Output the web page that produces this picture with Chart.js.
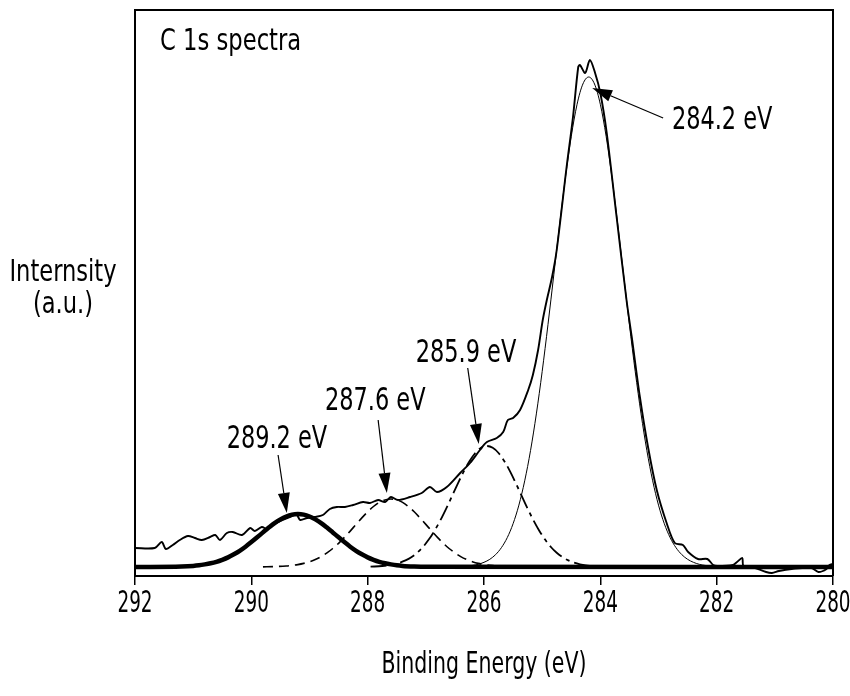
<!DOCTYPE html>
<html>
<head>
<meta charset="utf-8">
<script src="https://cdn.jsdelivr.net/npm/chart.js@4/dist/chart.umd.min.js"></script>
<style>
  html, body { margin: 0; padding: 0; background: #fff; }
  #wrap { width: 850px; height: 696px; }
</style>
</head>
<body>
<div id="wrap"><canvas id="c" width="850" height="696"></canvas></div>
<script>
// ---------- DATA ----------
const xTicks = [292, 290, 288, 286, 284, 282, 280];

// Measured C 1s spectrum (binding energy in eV, intensity in a.u.)
const spectrumE = [292.00, 291.66, 291.54, 291.47, 291.35, 291.23, 291.09, 290.97, 290.85, 290.71,
  290.62, 290.54, 290.42, 290.32, 290.16, 290.02, 289.94, 289.82, 289.73, 289.63,
  289.46, 289.34, 289.22, 289.16, 289.04, 288.91, 288.77, 288.65, 288.53, 288.39,
  288.25, 288.08, 287.96, 287.82, 287.70, 287.60, 287.48, 287.27, 287.07, 286.93,
  286.81, 286.64, 286.41, 286.24, 286.07, 285.95, 285.78, 285.67, 285.59, 285.50,
  285.38, 285.24, 285.16, 285.07, 284.99, 284.92, 284.83, 284.75, 284.58, 284.47,
  284.38, 284.35, 284.26, 284.18, 284.09, 284.00, 283.89, 283.72, 283.55, 283.46,
  283.32, 283.18, 283.03, 282.86, 282.72, 282.58, 282.49, 282.32, 282.16, 282.06,
  281.99, 281.72, 281.65, 281.56, 281.54, 281.39, 281.15, 281.05, 280.93, 280.71,
  280.37, 280.25, 280.11, 280.06, 280.00];
const spectrumI = [19, 19, 25, 18, 22, 27, 31, 29, 27, 30,
  32, 27, 34, 35, 32, 39, 36, 40, 38, 42,
  47, 50, 52, 47, 49, 50, 52, 58, 60, 60,
  62, 65, 64, 67, 65, 70, 67, 70, 74, 80,
  75, 80, 94, 104, 117, 125, 129, 135, 147, 149,
  157, 177, 192, 217, 247, 267, 290, 317, 400, 450,
  500, 502, 494, 507, 494, 474, 434, 350, 267, 230,
  170, 120, 77, 44, 24, 22, 15, 8, 8, 2,
  1, 2, 5, 9, 1, 0, -5, -6, -4, -2,
  -1, -5, -2, 2, 3];

// Fitted component at 289.2 eV (thick line)
const peak2892E = [292.0, 291.2, 291.0, 290.9, 290.8, 290.7, 290.6, 290.5, 290.4, 290.3, 290.2,
  290.1, 290.0, 289.9, 289.8, 289.7, 289.6, 289.5, 289.4, 289.3, 289.2,
  289.1, 289.0, 288.9, 288.8, 288.7, 288.6, 288.5, 288.4, 288.3, 288.2,
  288.1, 288.0, 287.9, 287.8, 287.7, 287.6, 287.5, 287.4, 287.2, 287.0, 280.0];
const peak2892I = [0, 0.5, 1.1, 1.7, 2.6, 3.7, 5.2, 7.2, 9.6, 12.7, 16.2,
  20.3, 24.9, 29.7, 34.6, 39.4, 43.9, 47.6, 50.5, 52.4, 53,
  52.4, 50.5, 47.6, 43.9, 39.4, 34.6, 29.7, 24.9, 20.3, 16.2,
  12.7, 9.6, 7.2, 5.2, 3.7, 2.6, 1.7, 1.1, 0.5, 0.2, 0];

// Fitted component at 287.6 eV (dashed)
const peak2876E = [289.8, 289.6, 289.4, 289.3, 289.2, 289.1, 289.0, 288.9, 288.8, 288.7, 288.6,
  288.5, 288.4, 288.3, 288.2, 288.1, 288.0, 287.9, 287.8, 287.7, 287.6,
  287.5, 287.4, 287.3, 287.2, 287.1, 287.0, 286.9, 286.8, 286.7, 286.6,
  286.5, 286.4, 286.3, 286.2, 286.1, 286.0, 285.9, 285.8, 285.6, 285.4];
const peak2876I = [0.1, 0.4, 1.0, 1.6, 2.4, 3.6, 5.3, 7.5, 10.4, 14.1, 18.5,
  23.7, 29.6, 35.9, 42.6, 49.1, 55.2, 60.5, 64.6, 67.1, 68,
  67.1, 64.6, 60.5, 55.2, 49.1, 42.6, 35.9, 29.6, 23.7, 18.5,
  14.1, 10.4, 7.5, 5.3, 3.6, 2.4, 1.6, 1.0, 0.4, 0.1];

// Fitted component at 285.9 eV (dash-dot)
const peak2859E = [287.95, 287.75, 287.65, 287.55, 287.45, 287.35, 287.25, 287.15, 287.05, 286.95,
  286.85, 286.75, 286.65, 286.55, 286.45, 286.35, 286.25, 286.15, 286.05, 285.95,
  285.85, 285.75, 285.65, 285.55, 285.45, 285.35, 285.25, 285.15, 285.05, 284.95,
  284.85, 284.75, 284.65, 284.55, 284.45, 284.35, 284.25, 284.15, 283.95];
const peak2859I = [0.3, 1.0, 1.6, 2.7, 4.3, 6.6, 9.8, 14.2, 20.0, 27.4,
  36.3, 46.7, 58.4, 70.9, 83.4, 95.4, 105.8, 114.0, 119.2, 121,
  119.2, 114.0, 105.8, 95.4, 83.4, 70.9, 58.4, 46.7, 36.3, 27.4,
  20.0, 14.2, 9.8, 6.6, 4.3, 2.7, 1.6, 1.0, 0.3];

// Fitted component at 284.2 eV (thin line)
const peak2842E = [286.6, 286.4, 286.2, 286.1, 286.0, 285.9, 285.8, 285.7, 285.6, 285.5,
  285.4, 285.3, 285.2, 285.1, 285.0, 284.9, 284.8, 284.7, 284.6, 284.5,
  284.4, 284.3, 284.2, 284.1, 284.0, 283.9, 283.8, 283.7, 283.6, 283.5,
  283.4, 283.3, 283.2, 283.1, 283.0, 282.9, 282.8, 282.7, 282.6, 282.5,
  282.4, 282.3, 282.2, 282.0, 281.8];
const peak2842I = [0.1, 0.5, 1.6, 2.7, 4.7, 7.7, 12.4, 19.4, 29.4, 43.3,
  61.9, 86.2, 116.5, 153.1, 195.4, 242.4, 292.2, 342.2, 389.4, 430.6,
  462.7, 483.0, 490, 483.0, 462.7, 430.6, 389.4, 342.2, 292.2, 242.4,
  195.4, 153.1, 116.5, 86.2, 61.9, 43.3, 29.4, 19.4, 12.4, 7.7,
  4.7, 2.7, 1.6, 0.5, 0.1];

// Annotation labels
const peakLabels = ["284.2 eV", "285.9 eV", "287.6 eV", "289.2 eV"];
const panelLabel = "C 1s spectra";
const xTitle = "Binding Energy (eV)";
const yTitleLines = ["Internsity", "(a.u.)"];

// ---------- helpers ----------
function pts(E, I) { return E.map((e, i) => ({ x: e, y: I[i] })); }

// annotation geometry (data coordinates: energy, intensity)
const arrowSpecs = [
  { text: peakLabels[0], tip: [284.14, 479], tail: [282.92, 449], at: [282.77, 446], align: 'left' },
  { text: peakLabels[1], tip: [286.09, 123], tail: [286.28, 199], at: [286.31, 213], align: 'center' },
  { text: peakLabels[2], tip: [287.67, 74],  tail: [287.82, 147], at: [287.87, 165], align: 'center' },
  { text: peakLabels[3], tip: [289.39, 54],  tail: [289.54, 112], at: [289.56, 127], align: 'center' }
];

const FONT = '"DejaVu Sans Condensed", "DejaVu Sans", sans-serif';
const TICK_SX = 0.66;    // horizontal squeeze of tick labels
const TITLE_SX = 0.76;   // horizontal squeeze of the axis title
const tickStrings = xTicks.map(String);

// draw narrow text: horizontally scaled fillText
function narrowText(ctx, text, x, y, sx) {
  ctx.save();
  ctx.translate(x, y);
  ctx.scale(sx, 1);
  ctx.fillText(text, 0, 0);
  ctx.restore();
}

const squeezePlugin = {
  id: 'squeeze',
  beforeDraw(chart) {
    const ctx = chart.ctx;
    if (ctx._origFillText) return;
    const orig = ctx.fillText;
    ctx._origFillText = orig;
    ctx.fillText = function (t, x, y) {
      const sx = tickStrings.includes(String(t)) ? TICK_SX : TITLE_SX;
      this.save();
      this.translate(x, y);
      this.scale(sx, 1);
      orig.call(this, t, 0, 0);
      this.restore();
    };
  },
  beforeDatasetsDraw(chart) {
    const ctx = chart.ctx;
    if (ctx._origFillText) {
      ctx.fillText = ctx._origFillText;
      delete ctx._origFillText;
    }
  }
};

const decorPlugin = {
  id: 'decor',
  afterDatasetsDraw(chart) {
    const { ctx, chartArea: a, scales } = chart;
    const xs = scales.x, ys = scales.y;
    ctx.save();
    // frame (top, left, right)
    ctx.strokeStyle = '#000';
    ctx.lineWidth = 2;
    ctx.beginPath();
    ctx.moveTo(a.left, a.bottom);
    ctx.lineTo(a.left, a.top);
    ctx.lineTo(a.right, a.top);
    ctx.lineTo(a.right, a.bottom);
    ctx.stroke();

    // arrows + labels
    ctx.fillStyle = '#000';
    ctx.font = '32px ' + FONT;
    ctx.textBaseline = 'middle';
    arrowSpecs.forEach(s => {
      const tx = xs.getPixelForValue(s.tip[0]), ty = ys.getPixelForValue(s.tip[1]);
      const sx = xs.getPixelForValue(s.tail[0]), sy = ys.getPixelForValue(s.tail[1]);
      const ang = Math.atan2(ty - sy, tx - sx);
      const L = 20, W = 6;
      const bx = tx - L * Math.cos(ang), by = ty - L * Math.sin(ang);
      ctx.lineWidth = 1.2;
      ctx.beginPath();
      ctx.moveTo(sx, sy);
      ctx.lineTo(bx, by);
      ctx.stroke();
      ctx.beginPath();
      ctx.moveTo(tx, ty);
      ctx.lineTo(bx + W * Math.sin(ang), by - W * Math.cos(ang));
      ctx.lineTo(bx - W * Math.sin(ang), by + W * Math.cos(ang));
      ctx.closePath();
      ctx.fill();
      ctx.textAlign = s.align;
      narrowText(ctx, s.text, xs.getPixelForValue(s.at[0]), ys.getPixelForValue(s.at[1]), 0.78);
    });

    // panel label
    ctx.textAlign = 'left';
    ctx.font = '30px ' + FONT;
    narrowText(ctx, panelLabel, a.left + 25, a.top + 32, 0.84);

    // y title (horizontal, two lines)
    ctx.textAlign = 'center';
    ctx.font = '31px ' + FONT;
    narrowText(ctx, yTitleLines[0], 63, 273, 0.81);
    narrowText(ctx, yTitleLines[1], 63, 305, 0.81);
    ctx.restore();
  }
};

new Chart(document.getElementById('c'), {
  type: 'line',
  data: {
    datasets: [
      { label: '289.2 eV', data: pts(peak2892E, peak2892I), borderColor: '#000', borderWidth: 4.5, pointRadius: 0, fill: false, cubicInterpolationMode: 'monotone' },
      { label: '287.6 eV', data: pts(peak2876E, peak2876I), borderColor: '#000', borderWidth: 1.6, borderDash: [10, 6], pointRadius: 0, fill: false, cubicInterpolationMode: 'monotone' },
      { label: '285.9 eV', data: pts(peak2859E, peak2859I), borderColor: '#000', borderWidth: 1.8, borderDash: [16, 5, 4, 5], pointRadius: 0, fill: false, cubicInterpolationMode: 'monotone' },
      { label: '284.2 eV', data: pts(peak2842E, peak2842I), borderColor: '#000', borderWidth: 1, pointRadius: 0, fill: false, cubicInterpolationMode: 'monotone' },
      { label: 'spectrum', data: pts(spectrumE, spectrumI), borderColor: '#000', borderWidth: 1.9, pointRadius: 0, fill: false, tension: 0.3 }
    ]
  },
  options: {
    responsive: false,
    animation: false,
    events: [],
    layout: { padding: { left: 0, right: 17, top: 10, bottom: 0 } },
    plugins: { legend: { display: false }, tooltip: { enabled: false }, title: { display: false } },
    scales: {
      x: {
        type: 'linear',
        reverse: true,
        min: 280,
        max: 292,
        afterBuildTicks: s => { s.ticks = xTicks.map(v => ({ value: v })); },
        ticks: { color: '#000', font: { family: FONT, size: 31 }, padding: 0, maxRotation: 0, autoSkip: false },
        grid: { drawOnChartArea: false, drawTicks: true, tickLength: 9, color: '#000', lineWidth: 1.5 },
        border: { display: true, color: '#000', width: 2 },
        title: { display: true, text: xTitle, color: '#000', font: { family: FONT, size: 30 }, padding: { top: 4, bottom: 13 } },
        afterFit: s => { s.height = 120; s.paddingLeft = 0; s.paddingRight = 0; }
      },
      y: {
        min: -9,
        max: 557,
        ticks: { display: false },
        grid: { display: false },
        border: { display: false },
        afterFit: s => { s.width = 135; }
      }
    }
  },
  plugins: [squeezePlugin, decorPlugin]
});
</script>
</body>
</html>
